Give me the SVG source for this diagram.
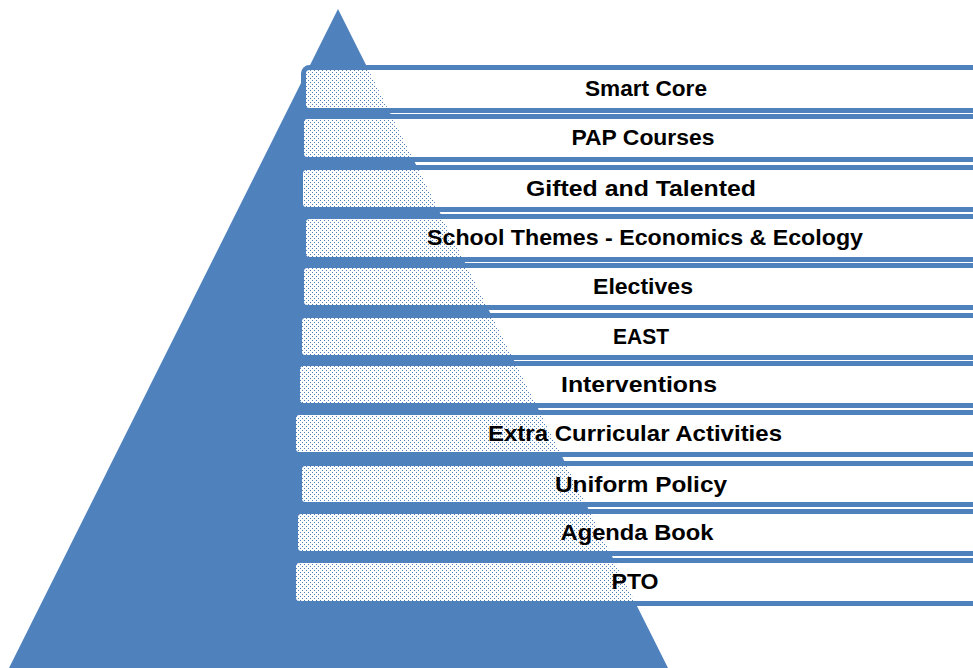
<svg xmlns="http://www.w3.org/2000/svg" width="973" height="668" viewBox="0 0 973 668">
<defs>
<pattern id="dots" patternUnits="userSpaceOnUse" x="0" y="0" width="4" height="4">
<path d="M1 0h3v1h-3zM0 1h4v1h-4zM0 2h2v1h-2zM3 2h1v1h-1zM0 3h4v1h-4z" fill="#ffffff"/>
</pattern>
</defs>
<style>
.bar{fill:url(#dots);stroke:#4F81BD;stroke-width:5}
.lbl{font-family:"Liberation Sans",Arial,sans-serif;font-weight:bold;font-size:22px;fill:#000;text-anchor:middle}
</style>
<rect width="973" height="668" fill="#ffffff"/>
<g id="pyramid">
<polygon points="338,9 9,668 668,668" fill="#4F81BD"/>
</g>
<g id="connectors"></g>
<g id="bar1"><rect class="bar" x="303.5" y="67.5" width="720" height="43" rx="6"/><text class="lbl" x="646" y="96" textLength="122" lengthAdjust="spacingAndGlyphs">Smart Core</text></g>
<g id="bar2"><rect class="bar" x="301.5" y="116.5" width="720" height="43" rx="6"/><text class="lbl" x="643" y="145" textLength="143" lengthAdjust="spacingAndGlyphs">PAP Courses</text></g>
<g id="bar3"><rect class="bar" x="300.5" y="167.5" width="720" height="42" rx="6"/><text class="lbl" x="641" y="196" textLength="230" lengthAdjust="spacingAndGlyphs">Gifted and Talented</text></g>
<g id="bar4"><rect class="bar" x="303.5" y="216.5" width="720" height="43" rx="6"/><text class="lbl" x="645" y="245" textLength="436" lengthAdjust="spacingAndGlyphs">School Themes - Economics &amp; Ecology</text></g>
<g id="bar5"><rect class="bar" x="301.5" y="265.5" width="720" height="42" rx="6"/><text class="lbl" x="643" y="294" textLength="100" lengthAdjust="spacingAndGlyphs">Electives</text></g>
<g id="bar6"><rect class="bar" x="299.5" y="315.5" width="720" height="42" rx="6"/><text class="lbl" x="641" y="344" textLength="56" lengthAdjust="spacingAndGlyphs">EAST</text></g>
<g id="bar7"><rect class="bar" x="297.5" y="363.5" width="720" height="42" rx="6"/><text class="lbl" x="639" y="392" textLength="156" lengthAdjust="spacingAndGlyphs">Interventions</text></g>
<g id="bar8"><rect class="bar" x="293.5" y="412.5" width="720" height="42" rx="6"/><text class="lbl" x="635" y="441" textLength="294" lengthAdjust="spacingAndGlyphs">Extra Curricular Activities</text></g>
<g id="bar9"><rect class="bar" x="299.5" y="463.5" width="720" height="41" rx="6"/><text class="lbl" x="641" y="492" textLength="172" lengthAdjust="spacingAndGlyphs">Uniform Policy</text></g>
<g id="bar10"><rect class="bar" x="295.5" y="511.5" width="720" height="42" rx="6"/><text class="lbl" x="637" y="540" textLength="153" lengthAdjust="spacingAndGlyphs">Agenda Book</text></g>
<g id="bar11"><rect class="bar" x="293.5" y="560.5" width="720" height="43" rx="6"/><text class="lbl" x="635" y="589" textLength="47" lengthAdjust="spacingAndGlyphs">PTO</text></g>
</svg>
